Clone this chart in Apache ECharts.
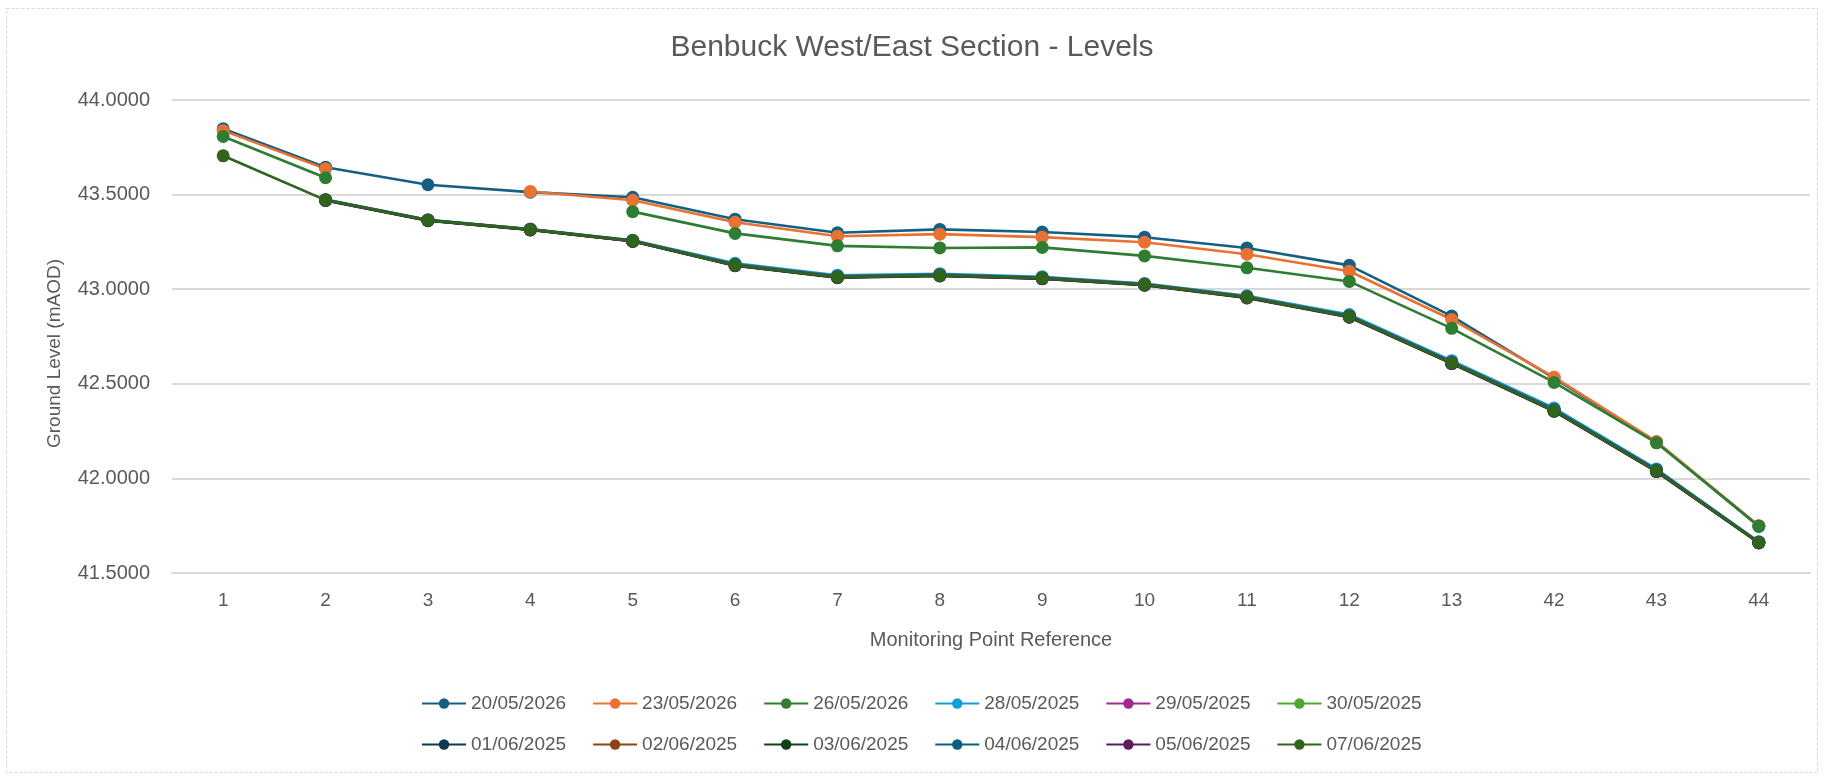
<!DOCTYPE html>
<html>
<head>
<meta charset="utf-8">
<script src="https://cdn.jsdelivr.net/npm/echarts@6/dist/echarts.min.js"></script>
<style>
  html, body { margin: 0; padding: 0; background: #ffffff; }
  #chart { width: 1824px; height: 776px; }
</style>
</head>
<body>
<div id="chart"></div>
<script>
// Monitoring point references along the section
const categories = ['1', '2', '3', '4', '5', '6', '7', '8', '9', '10', '11', '12', '13', '42', '43', '44'];

// Ground levels (mAOD) per survey date; null = not surveyed
const lv_20_05_2026 = [43.848, 43.645, 43.552, 43.513, 43.486, 43.370, 43.298, 43.316, 43.302, 43.275, 43.218, 43.126, 42.858, 42.530, 42.192, 41.746];
const lv_23_05_2026 = [43.838, 43.636, null, 43.516, 43.470, 43.354, 43.280, 43.291, 43.275, 43.248, 43.185, 43.095, 42.840, 42.535, 42.195, 41.750];
const lv_26_05_2026 = [43.807, 43.589, null, null, 43.410, 43.295, 43.229, 43.218, 43.221, 43.176, 43.113, 43.041, 42.793, 42.507, 42.188, 41.749];
const lv_28_05_2025 = [null, 43.474, 43.367, 43.318, 43.259, 43.137, 43.074, 43.082, 43.066, 43.030, 42.965, 42.866, 42.622, 42.372, 42.050, 41.665];
const lv_29_05_2025 = [null, 43.472, 43.366, 43.317, 43.257, 43.131, 43.068, 43.076, 43.061, 43.027, 42.961, 42.860, 42.615, 42.364, 42.045, 41.663];
const lv_30_05_2025 = [null, 43.471, 43.365, 43.316, 43.256, 43.129, 43.066, 43.075, 43.060, 43.026, 42.959, 42.858, 42.613, 42.362, 42.043, 41.662];
const lv_01_06_2025 = [null, 43.470, 43.363, 43.314, 43.254, 43.126, 43.063, 43.072, 43.057, 43.023, 42.956, 42.854, 42.609, 42.357, 42.038, 41.660];
const lv_02_06_2025 = [null, 43.471, 43.364, 43.315, 43.255, 43.127, 43.064, 43.073, 43.058, 43.024, 42.957, 42.855, 42.610, 42.358, 42.039, 41.661];
const lv_03_06_2025 = [null, 43.469, 43.362, 43.313, 43.253, 43.124, 43.061, 43.070, 43.055, 43.021, 42.954, 42.852, 42.607, 42.355, 42.036, 41.659];
const lv_04_06_2025 = [null, 43.472, 43.365, 43.316, 43.256, 43.130, 43.067, 43.076, 43.060, 43.026, 42.959, 42.859, 42.614, 42.363, 42.044, 41.662];
const lv_05_06_2025 = [null, 43.470, 43.363, 43.314, 43.254, 43.125, 43.062, 43.071, 43.056, 43.022, 42.955, 42.853, 42.608, 42.356, 42.037, 41.660];
const lv_07_06_2025 = [43.705, 43.471, 43.364, 43.316, 43.255, 43.127, 43.064, 43.073, 43.058, 43.024, 42.957, 42.855, 42.610, 42.358, 42.039, 41.661];

const surveyNames = ['20/05/2026', '23/05/2026', '26/05/2026', '28/05/2025', '29/05/2025', '30/05/2025',
                     '01/06/2025', '02/06/2025', '03/06/2025', '04/06/2025', '05/06/2025', '07/06/2025'];
const surveyValues = [lv_20_05_2026, lv_23_05_2026, lv_26_05_2026, lv_28_05_2025, lv_29_05_2025, lv_30_05_2025,
                      lv_01_06_2025, lv_02_06_2025, lv_03_06_2025, lv_04_06_2025, lv_05_06_2025, lv_07_06_2025];
const surveyColors = ['#156082', '#E97132', '#2E7D32', '#0F9ED5', '#A02B93', '#4EA72E',
                      '#0D3A4E', '#8C4414', '#0F4016', '#095F80', '#601A58', '#2F641C'];

const yTicks = { min: 41.5, max: 44.0, step: 0.5 };

const FONT = '"Liberation Sans", Arial, sans-serif';
const TEXT = '#595959';

const chart = echarts.init(document.getElementById('chart'), null, { renderer: 'canvas' });

const series = surveyNames.map((name, i) => ({
  name: name,
  type: 'line',
  data: surveyValues[i],
  connectNulls: false,
  symbol: 'circle',
  symbolSize: 13,
  showAllSymbol: true,
  lineStyle: { width: 2.6, color: surveyColors[i] },
  itemStyle: { color: surveyColors[i] },
  emphasis: { disabled: true },
  animation: false
}));

const legendCommon = {
  left: 421,
  padding: 0,
  itemWidth: 44,
  itemHeight: 13,
  itemGap: 26,
  textStyle: { fontFamily: FONT, fontSize: 19, color: TEXT },
  selectedMode: false
};

chart.setOption({
  backgroundColor: '#ffffff',
  color: surveyColors,
  title: {
    text: 'Benbuck West/East Section - Levels',
    left: 'center',
    top: 33,
    padding: 0,
    textStyle: { fontFamily: FONT, fontSize: 30, fontWeight: 'normal', color: TEXT }
  },
  legend: [
    Object.assign({}, legendCommon, { top: 694, data: surveyNames.slice(0, 6) }),
    Object.assign({}, legendCommon, { top: 735, data: surveyNames.slice(6) })
  ],
  grid: { left: 172, right: 14, top: 100, bottom: 203, containLabel: false },
  xAxis: {
    type: 'category',
    data: categories,
    boundaryGap: true,
    name: 'Monitoring Point Reference',
    nameLocation: 'middle',
    nameGap: 57,
    nameTextStyle: { fontFamily: FONT, fontSize: 20, color: TEXT },
    axisLine: { show: true, lineStyle: { color: '#d9d9d9', width: 2 } },
    axisTick: { show: false },
    axisLabel: { fontFamily: FONT, fontSize: 19, color: TEXT, margin: 18 }
  },
  yAxis: {
    type: 'value',
    min: yTicks.min,
    max: yTicks.max,
    interval: yTicks.step,
    name: 'Ground Level (mAOD)',
    nameLocation: 'middle',
    nameGap: 108,
    nameTextStyle: { fontFamily: FONT, fontSize: 19, color: TEXT, padding: [0, 34, 0, 0] },
    axisLine: { show: false },
    axisTick: { show: false },
    axisLabel: {
      fontFamily: FONT, fontSize: 20, color: TEXT, margin: 22,
      formatter: v => v.toFixed(4)
    },
    splitLine: { show: true, lineStyle: { color: '#d9d9d9', width: 2 } }
  },
  graphic: [{
    type: 'rect',
    shape: { x: 6.5, y: 8.5, width: 1811, height: 764 },
    style: { fill: 'none', stroke: '#d6d6d6', lineWidth: 1, lineDash: [3, 2] },
    silent: true,
    z: -1
  }],
  series: series
});
</script>
</body>
</html>
